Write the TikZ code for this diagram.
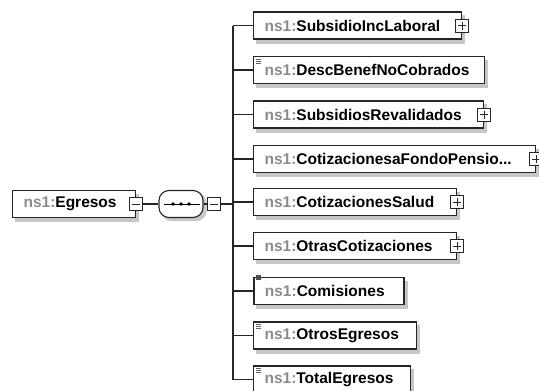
\documentclass[tikz,border=0pt]{standalone}
\usepackage{fontspec}
\setmainfont{Liberation Sans}
\usetikzlibrary{backgrounds}
\newcommand\nsp[1]{\textcolor{black!45}{ns1:}#1}
\begin{document}
\begin{tikzpicture}[x=1pt,y=-1pt,
  elem/.style={draw=black!85, line width=1.1pt, fill=white, minimum height=27pt,
    inner xsep=11pt, inner ysep=0pt, anchor=west, align=left,
    font=\fontsize{15.5}{18}\selectfont\bfseries},
  sqbox/.style={draw=black!85, line width=0.9pt, fill=white, minimum size=13pt, inner sep=0pt},
  plusbox/.style={sqbox, path picture={
    \draw[line width=0.8pt] ([xshift=2.5pt]path picture bounding box.west) -- ([xshift=-2.5pt]path picture bounding box.east);
    \draw[line width=0.8pt] ([yshift=-2.5pt]path picture bounding box.north) -- ([yshift=2.5pt]path picture bounding box.south);}},
  minusbox/.style={sqbox, path picture={
    \draw[line width=0.8pt] ([xshift=2.5pt]path picture bounding box.west) -- ([xshift=-2.5pt]path picture bounding box.east);}},
  conn/.style={draw=black!85, line width=1.1pt},
  txticon/.style={draw=black!60, line width=0.6pt},
  shadowfill/.style={fill=black!22}
]
\useasboundingbox (0,0) rectangle (539,391);

% root element
\node[elem, text width=101pt] (eg) at (12,204) {\nsp{Egresos}};
\node[minusbox] (egm) at (eg.east) {};

% sequence compositor
\node[draw=black!85, line width=1.1pt, fill=white, rounded corners=10pt,
  minimum width=44pt, minimum height=27pt] (seq) at (181,204) {};
\draw[line width=1pt] ([xshift=6pt]seq.west) -- ([xshift=-4pt]seq.east);
\foreach \dx in {-8,0,8} \fill ([xshift=\dx pt]seq.center) circle (1.8pt);
\node[minusbox] (seqm) at ([xshift=10pt]seq.east) {};

% children
\node[elem, text width=186pt] (b1) at (253,25.5) {\nsp{SubsidioIncLaboral}};
\node[elem, text width=209pt] (b2) at (253,70) {\nsp{DescBenefNoCobrados}};
\node[elem, text width=208pt] (b3) at (253,114.5) {\nsp{SubsidiosRevalidados}};
\node[elem, text width=260pt] (b4) at (253,159) {\nsp{CotizacionesaFondoPensio...}};
\node[elem, text width=181pt] (b5) at (253,202) {\nsp{CotizacionesSalud}};
\node[elem, text width=181pt] (b6) at (253,246) {\nsp{OtrasCotizaciones}};
\node[elem, text width=128pt, line width=1.8pt] (b7) at (253,291) {\nsp{Comisiones}};
\node[elem, text width=141pt] (b8) at (253,335.5) {\nsp{OtrosEgresos}};
\node[elem, text width=135pt] (b9) at (253,379.5) {\nsp{TotalEgresos}};

\foreach \b in {b1,b3,b4,b5,b6} \node[plusbox] (\b p) at (\b.east) {};

% shadows
\begin{scope}[on background layer]
\foreach \b in {eg,b1,b2,b3,b4,b5,b6,b7,b8,b9}
  \fill[shadowfill] ([shift={(3,4)}]\b.north west) rectangle ([shift={(3,4)}]\b.south east);
\fill[shadowfill, rounded corners=10pt] ([shift={(3,3)}]seq.north west) rectangle ([shift={(3,3)}]seq.south east);
\end{scope}

% text content icons
\foreach \b in {b2,b8,b9} {
  \draw[txticon] ([xshift=3pt,yshift=-3pt]\b.north west) -- ++(5pt,0);
  \draw[txticon] ([xshift=3pt,yshift=-5pt]\b.north west) -- ++(5pt,0);
  \draw[txticon] ([xshift=3pt,yshift=-7pt]\b.north west) -- ++(5pt,0);
}
\fill[black!70] ([xshift=3pt,yshift=-3pt]b7.north west) rectangle ++(5pt,5pt);

% connectors
\coordinate (spine) at (233,0);
\draw[conn] (egm.east) -- (seq.west);
\draw[conn] (seq.east) -- (seqm.west);
\draw[conn] (seqm.east) -- (seqm.east -| spine);
\draw[conn] (b1.west -| spine) -- (b9.west -| spine);
\foreach \b in {b1,b2,b3,b4,b5,b6,b7,b8,b9} \draw[conn] (\b.west -| spine) -- (\b.west);
\end{tikzpicture}
\end{document}
